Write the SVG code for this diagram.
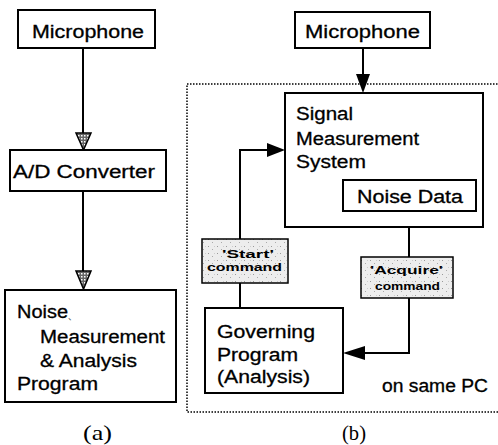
<svg xmlns="http://www.w3.org/2000/svg" width="498" height="445" viewBox="0 0 498 445">
<style>
.box{fill:#fff;stroke:#000;stroke-width:2}
.t{font-family:"Liberation Sans",Arial,sans-serif;font-size:18px;fill:#000;stroke:#000;stroke-width:0.3}
.lb{font-family:"Liberation Sans",Arial,sans-serif;font-size:11.5px;font-weight:bold;fill:#000}
.cap{font-family:"Liberation Serif","Times New Roman",serif;font-size:22px;fill:#000}
.ln{fill:none;stroke:#000;stroke-width:2}
.lab{fill:url(#stip);stroke:#000;stroke-width:1.5}
</style>
<defs>
<pattern id="stip" width="9" height="7" patternUnits="userSpaceOnUse">
<rect width="9" height="7" fill="#ededed"/>
<rect x="1" y="1" width="1" height="1" fill="#999"/>
<rect x="5" y="4" width="1" height="1" fill="#aaa"/>
<rect x="7" y="1" width="1" height="1" fill="#ccc"/>
</pattern>
<pattern id="hatch" width="3" height="3" patternUnits="userSpaceOnUse">
<rect width="3" height="3" fill="#666"/>
<rect width="1.5" height="1.5" fill="#fff"/>
</pattern>
</defs>

<rect x="187" y="84" width="320" height="328" fill="none" stroke="#000" stroke-width="1.5" stroke-dasharray="1.5 1.5"/>

<g id="connectors">
<line class="ln" x1="83" y1="48" x2="83" y2="134"/>
<polygon points="76,133 91,133 83.5,150" fill="url(#hatch)" stroke="#000" stroke-width="1.5"/>
<line class="ln" x1="83" y1="191" x2="83" y2="272"/>
<polygon points="76,271 91,271 83.5,289" fill="url(#hatch)" stroke="#000" stroke-width="1.5"/>
<line class="ln" x1="363" y1="48" x2="363" y2="75"/>
<polygon points="356,74 370,74 363,93" fill="#000"/>
<polyline class="ln" points="240,308 240,150 268,150"/>
<polygon points="267,143 267,157 285,150" fill="#000"/>
<polyline class="ln" points="409,211 409,353 364,353"/>
<polygon points="365,346 365,360 343,353" fill="#000"/>
</g>

<g id="mic-a">
<rect class="box" x="18" y="10" width="137" height="38"/>
<text class="t" x="32" y="38" textLength="112" lengthAdjust="spacingAndGlyphs">Microphone</text>
</g>
<g id="adc">
<rect class="box" x="10" y="150" width="156" height="41"/>
<text class="t" x="13" y="178" textLength="142" lengthAdjust="spacingAndGlyphs">A/D Converter</text>
</g>
<g id="noise-prog">
<rect class="box" x="5" y="290" width="171" height="112"/>
<text class="t" x="17" y="318" textLength="51" lengthAdjust="spacingAndGlyphs">Noise</text>
<text x="68" y="320" font-family="Noto Sans CJK KR,sans-serif" font-size="9" fill="#555">、</text>
<text class="t" x="40" y="343" textLength="125" lengthAdjust="spacingAndGlyphs">Measurement</text>
<text class="t" x="40" y="367" textLength="97" lengthAdjust="spacingAndGlyphs">&amp; Analysis</text>
<text class="t" x="17" y="390" textLength="81" lengthAdjust="spacingAndGlyphs">Program</text>
</g>
<text class="cap" x="83" y="440" textLength="29" lengthAdjust="spacingAndGlyphs">(a)</text>

<g id="mic-b">
<rect class="box" x="295" y="12" width="135" height="36"/>
<text class="t" x="305" y="38" textLength="115" lengthAdjust="spacingAndGlyphs">Microphone</text>
</g>
<g id="sms">
<rect class="box" x="285" y="93" width="198" height="134"/>
<text class="t" x="296" y="120" textLength="57" lengthAdjust="spacingAndGlyphs">Signal</text>
<text class="t" x="296" y="145" textLength="123" lengthAdjust="spacingAndGlyphs">Measurement</text>
<text class="t" x="296" y="168" textLength="70" lengthAdjust="spacingAndGlyphs">System</text>
</g>
<g id="noise-data">
<rect class="box" x="343" y="180" width="133" height="31"/>
<text class="t" x="357" y="203" textLength="106" lengthAdjust="spacingAndGlyphs">Noise Data</text>
</g>
<g id="start-label">
<rect class="lab" x="202" y="239" width="86" height="44"/>
<text class="lb" x="222" y="258" textLength="52" lengthAdjust="spacingAndGlyphs">'Start'</text>
<text class="lb" x="207" y="271" textLength="75" lengthAdjust="spacingAndGlyphs">command</text>
</g>
<g id="acquire-label">
<rect class="lab" x="361" y="257" width="92" height="41"/>
<text class="lb" x="370" y="274" textLength="73" lengthAdjust="spacingAndGlyphs">'Acquire'</text>
<text class="lb" x="375" y="290" textLength="65" lengthAdjust="spacingAndGlyphs">command</text>
</g>
<g id="governing">
<rect class="box" x="205" y="308" width="138" height="85"/>
<text class="t" x="217" y="338" textLength="98" lengthAdjust="spacingAndGlyphs">Governing</text>
<text class="t" x="217" y="361" textLength="81" lengthAdjust="spacingAndGlyphs">Program</text>
<text class="t" x="217" y="383" textLength="93" lengthAdjust="spacingAndGlyphs">(Analysis)</text>
</g>
<text class="t" x="382" y="392" textLength="106" lengthAdjust="spacingAndGlyphs">on same PC</text>
<text class="cap" x="342" y="440" textLength="24" lengthAdjust="spacingAndGlyphs">(b)</text>
</svg>
